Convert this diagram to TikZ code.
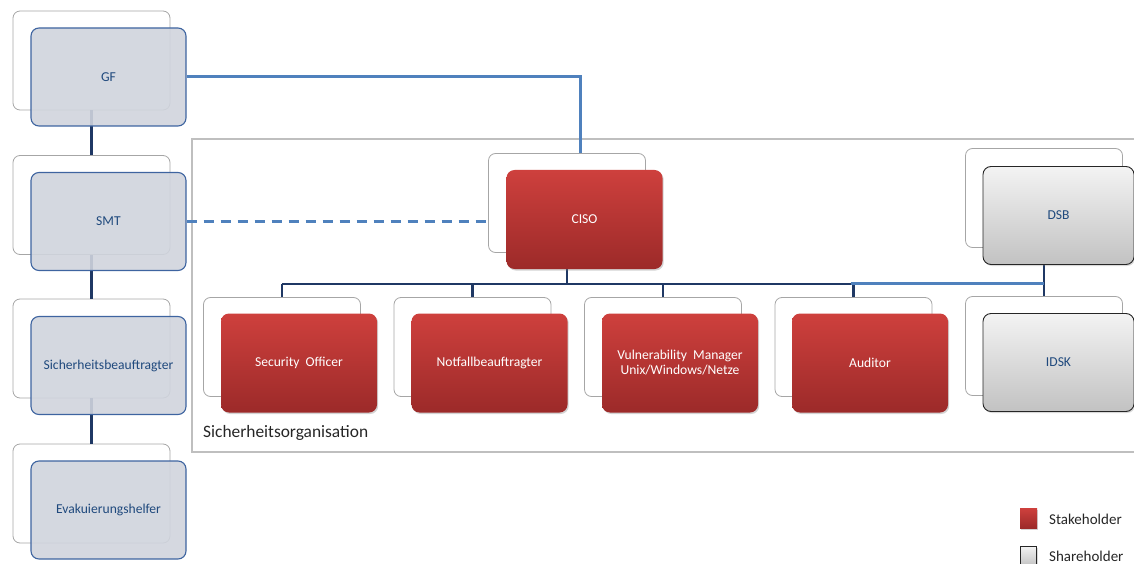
\documentclass[tikz,border=0pt]{standalone}
\usepackage{fontspec}
\setmainfont{Carlito}
\usetikzlibrary{shadows,calc}
\definecolor{frontfill}{HTML}{D0D4DD}
\definecolor{frontline}{HTML}{3E64A0}
\definecolor{txtblue}{HTML}{1F497D}
\definecolor{redtop}{HTML}{CE403D}
\definecolor{redbot}{HTML}{9C2A29}
\definecolor{graytop}{HTML}{F3F3F3}
\definecolor{graybot}{HTML}{C2C2C2}
\definecolor{darkline}{HTML}{1F3864}
\definecolor{lightline}{HTML}{4F81BD}
\definecolor{framegray}{HTML}{BFBFBF}
\definecolor{backline}{HTML}{A6A6A6}
\definecolor{txtdark}{HTML}{262626}
\begin{document}
\begin{tikzpicture}[x=1pt,y=-1pt,
  backbox/.style={draw=backline, fill=white, rounded corners=7pt, minimum width=157pt, minimum height=99pt, inner sep=0pt, line width=0.8pt},
  boxfont/.style={font=\fontsize{13.6}{16}\selectfont},
  leftbox/.style={boxfont, draw=frontline, fill=frontfill, fill opacity=0.9, text opacity=1, rounded corners=8pt, minimum width=155pt, minimum height=98pt, text=txtblue, line width=1.1pt, inner sep=0pt},
  redbox/.style={boxfont, top color=redtop, bottom color=redbot, draw=none, text=white, rounded corners=8pt, minimum width=156pt, minimum height=99pt, inner sep=0pt, align=center, drop shadow={shadow xshift=1.2pt, shadow yshift=-1.5pt, opacity=0.35}},
  graybox/.style={boxfont, top color=graytop, bottom color=graybot, draw=black!85, line width=0.9pt, text=txtblue, rounded corners=8pt, minimum width=151pt, minimum height=98pt, inner sep=0pt, drop shadow={shadow xshift=1.2pt, shadow yshift=-1.5pt, opacity=0.3}},
  darkconn/.style={draw=darkline, line width=2.7pt},
  lightconn/.style={draw=lightline, line width=3pt},
  legtext/.style={font=\fontsize{15}{18}\selectfont, text=txtdark, anchor=west, inner sep=0pt},
]
\useasboundingbox (0,0) rectangle (1134,564);
\clip (0,0) rectangle (1134,564);

% frame
\draw[framegray, line width=2.2pt] (192,139) rectangle (1160,452);
\node[font=\fontsize{17.4}{20}\selectfont, text=txtdark, anchor=west, inner sep=0pt] (orglabel) at (203,433) {Sicherheitsorganisation};

% back boxes
\node[backbox] (gfb) at (91.5,60.5) {};
\node[backbox] (smtb) at (91.5,205) {};
\node[backbox] (sbb) at (91.5,348.5) {};
\node[backbox] (evb) at (91.5,493.5) {};
\node[backbox] (cisob) at (567,203) {};
\node[backbox] (sob) at (282,347) {};
\node[backbox] (nfb) at (472.5,347) {};
\node[backbox] (vmb) at (663,347) {};
\node[backbox] (aub) at (853.5,347) {};
\node[backbox] (dsbb) at (1044,198) {};
\node[backbox] (idskb) at (1044,346) {};

% connectors (left column)
\draw[darkconn] (gfb.south) -- (smtb.north);
\draw[darkconn] (smtb.south) -- (sbb.north);
\draw[darkconn] (sbb.south) -- (evb.north);

% tree
\coordinate (tl) at (sob.north |- 0,284);
\coordinate (tr) at (aub.north |- 0,284);
\coordinate (tc) at (cisob.south |- 0,284);
\draw[darkconn] (cisob.south |- 0,269) -- (tc);
\draw[darkconn] (tl) -- (tr);
\draw[darkconn] (tl) -- (sob.north);
\draw[darkconn] (nfb.north |- tl) -- (nfb.north);
\draw[darkconn] (vmb.north |- tl) -- (vmb.north);
\draw[darkconn] (tr) -- (aub.north);
\draw[darkconn] (dsbb.south |- 0,265) -- (idskb.north);
\draw[lightconn] ([xshift=-3pt]aub.north |- 0,283) -- (dsbb.south |- 0,283);

% front boxes
\node[leftbox] (gf) at (108.5,77) {GF};
\node[leftbox] (smt) at (108.5,221.5) {SMT};
\node[leftbox] (sb) at (108.5,365.5) {Sicherheitsbeauftragter};
\node[leftbox] (ev) at (108.5,510) {Evakuierungshelfer};

\node[redbox] (ciso) at (584.5,219.5) {CISO};
\node[redbox] (so) at (299,363) {Security\ \ Officer};
\node[redbox] (nf) at (489.5,363) {Notfallbeauftragter};
\node[redbox] (vm) at (680,363) {Vulnerability\ \ Manager\\[-1pt]Unix/Windows/Netze};
\node[redbox] (au) at (870,363) {Auditor};
\node[graybox] (dsb) at (1058.5,215.5) {DSB};
\node[graybox] (idsk) at (1058.5,362.5) {IDSK};

% upper connectors
\draw[lightconn] (gf.east) -| ([xshift=13pt]cisob.north);
\draw[lightconn, dash pattern=on 10pt off 7pt] (smt.east) -- (smt.east -| cisob.west);

% legend
\node[redbox, minimum width=17pt, minimum height=20pt, rounded corners=0pt] (legred) at (1028.5,518) {};
\node[legtext] (legredt) at (1049,519) {Stakeholder};
\node[graybox, minimum width=16pt, minimum height=20pt, rounded corners=0pt, line width=0.8pt] (leggray) at (1028.5,556) {};
\node[legtext] (leggrayt) at (1049,556) {Shareholder};
\end{tikzpicture}
\end{document}
